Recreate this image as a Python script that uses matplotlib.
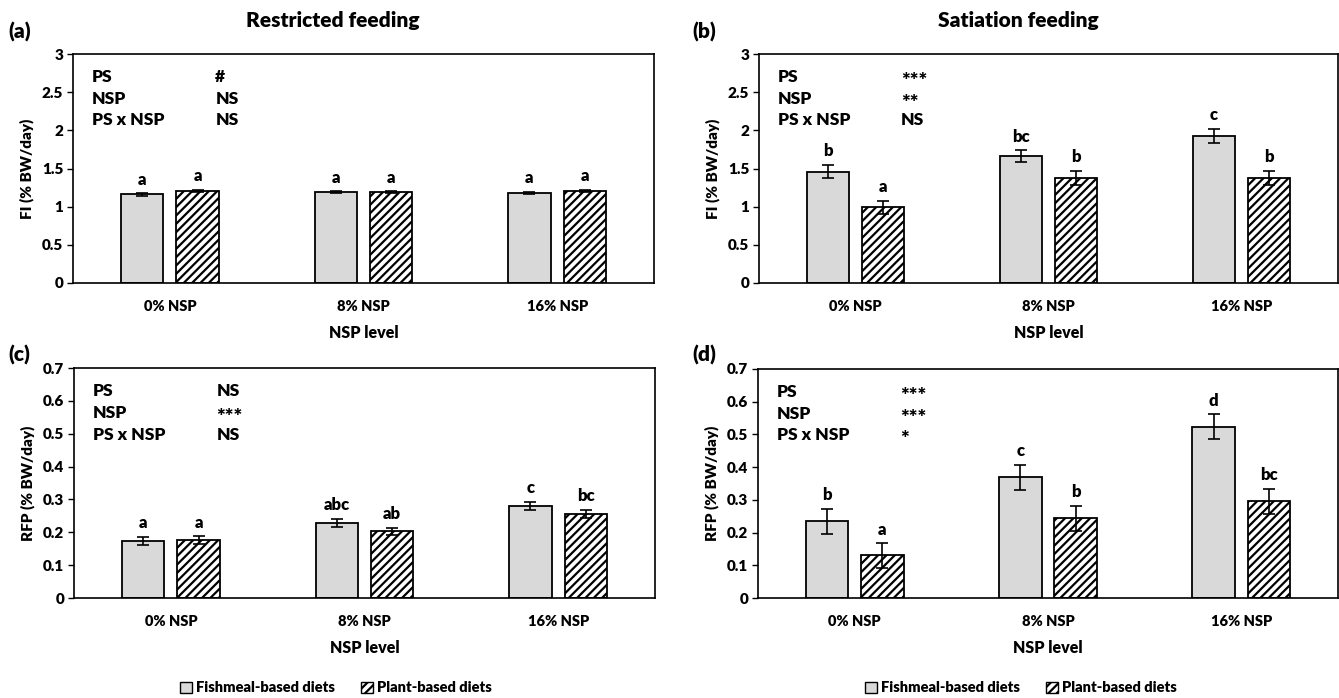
import numpy as np
import matplotlib; matplotlib.use("Agg"); import matplotlib.pyplot as plt
from matplotlib.patches import Patch

plt.rcParams['font.family'] = ['Lato', 'DejaVu Sans']
plt.rcParams['font.weight'] = 'bold'
plt.rcParams['hatch.linewidth'] = 1.6

levels = ["0% NSP", "8% NSP", "16% NSP"]
series = ["Fishmeal-based diets", "Plant-based diets"]

# (a) FI, restricted feeding
fi_r_fish = [1.16, 1.19, 1.18]; fi_r_fish_se = [0.015, 0.012, 0.012]
fi_r_plant = [1.21, 1.19, 1.21]; fi_r_plant_se = [0.012, 0.010, 0.012]
fi_r_fish_lt = ["a", "a", "a"]; fi_r_plant_lt = ["a", "a", "a"]
fi_r_stats = ["#", "NS", "NS"]
# (b) FI, satiation feeding
fi_s_fish = [1.46, 1.66, 1.93]; fi_s_fish_se = [0.09, 0.08, 0.09]
fi_s_plant = [0.99, 1.38, 1.38]; fi_s_plant_se = [0.09, 0.09, 0.09]
fi_s_fish_lt = ["b", "bc", "c"]; fi_s_plant_lt = ["a", "b", "b"]
fi_s_stats = ["***", "**", "NS"]
# (c) RFP, restricted feeding
rfp_r_fish = [0.173, 0.229, 0.281]; rfp_r_fish_se = [0.013, 0.012, 0.012]
rfp_r_plant = [0.176, 0.203, 0.257]; rfp_r_plant_se = [0.012, 0.011, 0.012]
rfp_r_fish_lt = ["a", "abc", "c"]; rfp_r_plant_lt = ["a", "ab", "bc"]
rfp_r_stats = ["NS", "***", "NS"]
# (d) RFP, satiation feeding
rfp_s_fish = [0.234, 0.369, 0.524]; rfp_s_fish_se = [0.038, 0.039, 0.038]
rfp_s_plant = [0.130, 0.244, 0.296]; rfp_s_plant_se = [0.037, 0.038, 0.038]
rfp_s_fish_lt = ["b", "c", "d"]; rfp_s_plant_lt = ["a", "b", "bc"]
rfp_s_stats = ["***", "***", "*"]
stat_names = ["PS", "NSP", "PS x NSP"]

W, H = 1339, 698
fig = plt.figure(figsize=(W/100, H/100), dpi=100)

def axes_px(x0, x1, y0, y1):
    return fig.add_axes([x0/W, 1-y1/H, (x1-x0)/W, (y1-y0)/H])

GRAY = '#d9d9d9'
def panel(ax, fish, fse, plant, pse, flt, plt_, stats, ymax, ystep, ylabel):
    x = np.arange(len(levels))
    bw = 0.22; off = 0.143
    ax.bar(x-off, fish, bw, color=GRAY, edgecolor='black', linewidth=1.3, zorder=2)
    ax.bar(x+off, plant, bw, color='white', edgecolor='black', hatch='////', linewidth=1.3, zorder=2)
    ax.errorbar(x-off, fish, yerr=fse, fmt='none', ecolor='black', elinewidth=1.2, capsize=4, capthick=1.2, zorder=3)
    ax.errorbar(x+off, plant, yerr=pse, fmt='none', ecolor='black', elinewidth=1.2, capsize=4, capthick=1.2, zorder=3)
    for xs, vals, errs, lts in ((x-off, fish, fse, flt), (x+off, plant, pse, plt_)):
        for xi, v, e, t in zip(xs, vals, errs, lts):
            ax.annotate(t, (xi, v+e), xytext=(0, 4), textcoords='offset points',
                        ha='center', va='bottom', fontsize=12, fontweight='heavy')
    ax.set_xlim(-0.5, len(levels)-0.5)
    ax.set_ylim(0, ymax)
    ticks = np.arange(0, ymax+ystep/2, ystep)
    ax.set_yticks(ticks)
    ax.set_yticklabels(["%g" % round(t, 1) for t in ticks], fontsize=11, fontweight='heavy')
    ax.set_xticks(x)
    ax.set_xticklabels(levels, fontsize=10.5, fontweight='heavy')
    ax.tick_params(axis='x', length=0, pad=12)
    ax.tick_params(axis='y', length=4, width=1, direction='out', pad=3)
    ax.set_xlabel("NSP level", fontsize=11.5, fontweight='heavy', labelpad=9)
    ax.set_ylabel(ylabel, fontsize=11, fontweight='heavy', labelpad=6)
    for s in ax.spines.values():
        s.set_linewidth(1.2)
    for i, (n, s) in enumerate(zip(stat_names, stats)):
        yy = [0.90, 0.805, 0.71][i]
        ax.text(0.033, yy, n, transform=ax.transAxes, fontsize=12.5, fontweight='heavy', va='center')
        sz = 15 if '*' in s else 12.5
        ax.text(0.245, yy - (0.02 if '*' in s else 0), s, transform=ax.transAxes, fontsize=sz,
                fontweight='heavy', va='center')

axa = axes_px(73, 654, 54, 283)
axb = axes_px(759, 1338, 54, 283)
axc = axes_px(74, 655, 368, 598)
axd = axes_px(758, 1338, 369, 598)

panel(axa, fi_r_fish, fi_r_fish_se, fi_r_plant, fi_r_plant_se, fi_r_fish_lt, fi_r_plant_lt, fi_r_stats, 3, 0.5, "FI (% BW/day)")
panel(axb, fi_s_fish, fi_s_fish_se, fi_s_plant, fi_s_plant_se, fi_s_fish_lt, fi_s_plant_lt, fi_s_stats, 3, 0.5, "FI (% BW/day)")
panel(axc, rfp_r_fish, rfp_r_fish_se, rfp_r_plant, rfp_r_plant_se, rfp_r_fish_lt, rfp_r_plant_lt, rfp_r_stats, 0.7, 0.1, "RFP (% BW/day)")
panel(axd, rfp_s_fish, rfp_s_fish_se, rfp_s_plant, rfp_s_plant_se, rfp_s_fish_lt, rfp_s_plant_lt, rfp_s_stats, 0.7, 0.1, "RFP (% BW/day)")

fig.text(333/W, 1-20/H, "Restricted feeding", ha='center', va='center', fontsize=15, fontweight='heavy')
fig.text(1018/W, 1-20/H, "Satiation feeding", ha='center', va='center', fontsize=15, fontweight='heavy')
for lab, px, py in [("(a)", 8, 32), ("(b)", 692, 32), ("(c)", 8, 355), ("(d)", 692, 355)]:
    fig.text(px/W, 1-py/H, lab, ha='left', va='center', fontsize=15, fontweight='heavy')

handles = [Patch(facecolor=GRAY, edgecolor='black', linewidth=1),
           Patch(facecolor='white', edgecolor='black', hatch='////', linewidth=1)]
for cx in (336/W, 1021/W):
    fig.legend(handles, series, loc='center', bbox_to_anchor=(cx, 1-688/H), ncol=2, frameon=False,
               handlelength=0.8, handleheight=0.8, handletextpad=0.3, columnspacing=1.8,
               prop={'weight': 'heavy', 'size': 10.5})

fig.savefig("out.png", dpi=100, facecolor='white')
